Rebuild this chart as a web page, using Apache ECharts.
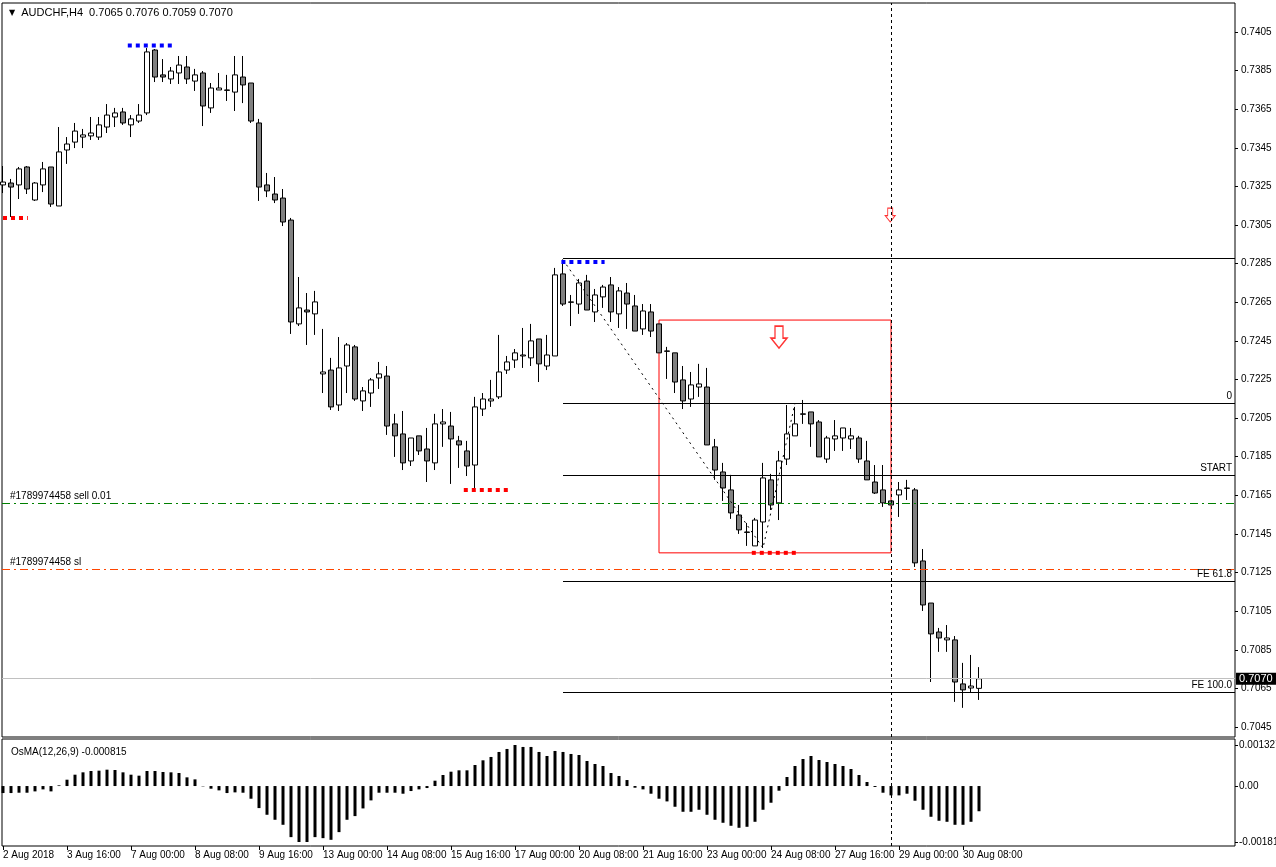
<!DOCTYPE html>
<html>
<head>
<meta charset="utf-8">
<script src="https://cdn.jsdelivr.net/npm/echarts@6/dist/echarts.min.js"></script>
<style>
  html, body { margin: 0; padding: 0; background: #fff; }
  #chart { width: 1276px; height: 867px; }
</style>
</head>
<body>
<div id="chart"></div>
<script>
// AUDCHF H4, bar 0 = 2 Aug 2018 08:00 ... bar 122 = 30 Aug 2018 16:00
const opens = [
  0.73258, 0.73268, 0.73258, 0.73351, 0.7318, 0.73258, 0.73351, 0.73149, 0.73439, 0.7348,
  0.73506, 0.73512, 0.73506, 0.73558, 0.7361, 0.73636, 0.73569, 0.73589, 0.73631, 0.73957,
  0.73828, 0.73807, 0.73838, 0.73869, 0.73796, 0.73838, 0.73657, 0.7375, 0.7375, 0.73739,
  0.73817, 0.73786, 0.73579, 0.73258, 0.73211, 0.7319, 0.73076, 0.72538, 0.7261, 0.7259,
  0.72279, 0.72299, 0.72118, 0.7232, 0.72419, 0.72139, 0.7218, 0.72258, 0.72268, 0.7202,
  0.71968, 0.71828, 0.71958, 0.7189, 0.71818, 0.7202, 0.72009, 0.71932, 0.7188, 0.71807,
  0.72097, 0.72139, 0.7216, 0.72299, 0.72351, 0.72372, 0.72362, 0.7246, 0.7232, 0.72372,
  0.72797, 0.72652, 0.72641, 0.7276, 0.726, 0.72678, 0.7274, 0.7259, 0.72698, 0.72631,
  0.72512, 0.726, 0.72538, 0.72398, 0.72388, 0.72248, 0.72149, 0.72211, 0.72211, 0.71901,
  0.71771, 0.71678, 0.71548, 0.7146, 0.71388, 0.71512, 0.7173, 0.71611, 0.71838, 0.71958,
  0.72072, 0.72082, 0.7203, 0.71838, 0.71942, 0.71947, 0.71942, 0.71947, 0.71828, 0.71719,
  0.71678, 0.71621, 0.71652, 0.71688, 0.71678, 0.7131, 0.71092, 0.70942, 0.70901, 0.70901,
  0.70673, 0.70652, 0.7065
];
const highs = [
  0.73356, 0.73289, 0.73351, 0.73356, 0.73273, 0.73377, 0.73351, 0.73558, 0.73506, 0.73579,
  0.73548, 0.7361, 0.7361, 0.73677, 0.73657, 0.73657, 0.7362, 0.73677, 0.73967, 0.73962,
  0.7391, 0.73869, 0.73926, 0.73926, 0.73859, 0.73848, 0.73786, 0.73838, 0.73828, 0.73926,
  0.73926, 0.73786, 0.736, 0.7332, 0.73299, 0.73237, 0.73087, 0.72781, 0.72698, 0.72709,
  0.72512, 0.72362, 0.7247, 0.72439, 0.72429, 0.72211, 0.72258, 0.72341, 0.7232, 0.72072,
  0.72087, 0.71947, 0.71958, 0.71999, 0.72072, 0.72097, 0.72082, 0.71958, 0.71932, 0.7216,
  0.7218, 0.72248, 0.72481, 0.72372, 0.72408, 0.72517, 0.72538, 0.7246, 0.72481, 0.72828,
  0.72872, 0.72688, 0.72771, 0.72792, 0.72719, 0.7274, 0.72781, 0.72729, 0.7275, 0.72688,
  0.72641, 0.72641, 0.72538, 0.72419, 0.72388, 0.7232, 0.72289, 0.72331, 0.7231, 0.71942,
  0.71818, 0.71756, 0.716, 0.71507, 0.71533, 0.71818, 0.71761, 0.7188, 0.72118, 0.72108,
  0.72144, 0.72082, 0.7204, 0.71958, 0.7204, 0.71999, 0.71999, 0.71958, 0.71932, 0.71807,
  0.71807, 0.71621, 0.71719, 0.7173, 0.71688, 0.71372, 0.71092, 0.70963, 0.70978, 0.70921,
  0.70782, 0.70823, 0.7076
];
const lows = [
  0.73216, 0.73092, 0.73185, 0.73211, 0.73175, 0.73221, 0.73144, 0.73149, 0.73367, 0.73449,
  0.73449, 0.73491, 0.73491, 0.73527, 0.73558, 0.73569, 0.73506, 0.73579, 0.7362, 0.73791,
  0.73791, 0.73781, 0.73781, 0.73781, 0.73745, 0.73563, 0.73631, 0.7375, 0.73693, 0.73641,
  0.73682, 0.73579, 0.73175, 0.73195, 0.73164, 0.73045, 0.72486, 0.72527, 0.72429, 0.72481,
  0.7218, 0.72092, 0.72087, 0.7218, 0.72139, 0.72087, 0.72108, 0.72201, 0.71963, 0.71849,
  0.71781, 0.71802, 0.71859, 0.71719, 0.71781, 0.71901, 0.71709, 0.71792, 0.7175, 0.71688,
  0.72061, 0.72108, 0.72149, 0.72279, 0.7231, 0.7231, 0.7232, 0.72237, 0.72299, 0.72372,
  0.72631, 0.72527, 0.7259, 0.7261, 0.72548, 0.72621, 0.72548, 0.72517, 0.72512, 0.72501,
  0.72481, 0.7247, 0.72388, 0.72253, 0.7218, 0.72097, 0.72108, 0.7216, 0.71911, 0.7173,
  0.71621, 0.71528, 0.7145, 0.71388, 0.71388, 0.71377, 0.71574, 0.71522, 0.71807, 0.71958,
  0.7202, 0.71901, 0.71849, 0.71818, 0.7188, 0.7188, 0.7189, 0.71818, 0.7173, 0.71657,
  0.7159, 0.716, 0.71538, 0.71626, 0.71279, 0.71051, 0.70683, 0.70839, 0.70839, 0.7058,
  0.70549, 0.70631, 0.7059
];
const closes = [
  0.73273, 0.73247, 0.73341, 0.73237, 0.73268, 0.73341, 0.73159, 0.73429, 0.7347, 0.73537,
  0.73517, 0.73527, 0.73569, 0.7362, 0.73631, 0.73579, 0.736, 0.7362, 0.73947, 0.73817,
  0.73817, 0.73848, 0.73879, 0.73807, 0.73828, 0.73667, 0.7376, 0.7376, 0.73748, 0.73828,
  0.73776, 0.73589, 0.73247, 0.73227, 0.7318, 0.73066, 0.72548, 0.72621, 0.726, 0.72652,
  0.72289, 0.72108, 0.7231, 0.72429, 0.72149, 0.72191, 0.72248, 0.72279, 0.72009, 0.71958,
  0.71818, 0.71947, 0.7188, 0.71828, 0.7202, 0.7203, 0.71942, 0.71911, 0.71802, 0.72108,
  0.72149, 0.72149, 0.72289, 0.72341, 0.72388, 0.72377, 0.7245, 0.72331, 0.72377, 0.72792,
  0.72641, 0.7265, 0.7275, 0.7261, 0.72688, 0.72729, 0.726, 0.72709, 0.72641, 0.72501,
  0.72605, 0.72501, 0.72388, 0.72396, 0.72237, 0.72139, 0.72222, 0.72227, 0.71911, 0.71781,
  0.71688, 0.71559, 0.71471, 0.71458, 0.71522, 0.7174, 0.716, 0.71828, 0.71968, 0.7202,
  0.7207, 0.7202, 0.71849, 0.71947, 0.71958, 0.71999, 0.71958, 0.71838, 0.7173, 0.71662,
  0.71611, 0.716, 0.71678, 0.71686, 0.713, 0.71082, 0.70932, 0.70911, 0.70911, 0.70683,
  0.70642, 0.70662, 0.7070
];
// OsMA(12,26,9) histogram, one value per bar
const osma = [
  -0.000227, -0.000227, -0.000216, -0.000216, -0.000173, -0.000108, -0.000173, 0.000022, 0.000205, 0.000367,
  0.000443, 0.000486, 0.000497, 0.000529, 0.000518, 0.000443, 0.000367, 0.000335, 0.000486, 0.000486,
  0.000454, 0.000443, 0.000421, 0.000281, 0.000216, -0.000011, -0.000086, -0.00014, -0.000227, -0.000205,
  -0.000216, -0.00041, -0.000713, -0.000929, -0.001091, -0.001253, -0.001652, -0.00181, -0.00181, -0.001652,
  -0.001685, -0.001739, -0.00149, -0.001091, -0.000972, -0.000724, -0.000464, -0.000216, -0.000216, -0.000216,
  -0.000248, -0.000162, -0.000108, -0.000065, 0.000173, 0.000356, 0.000464, 0.000508, 0.000508, 0.00068,
  0.000832, 0.00094, 0.001102, 0.001199, 0.001327, 0.001264, 0.001264, 0.001102, 0.000972, 0.001134,
  0.001102, 0.001037, 0.001004, 0.00081, 0.000713, 0.000648, 0.000421, 0.000324, 0.000194, -0.000054,
  -0.000108, -0.000248, -0.00041, -0.000497, -0.00067, -0.000832, -0.000832, -0.000767, -0.000929, -0.001091,
  -0.001188, -0.001285, -0.00135, -0.001318, -0.001156, -0.000767, -0.00054, -0.000151, 0.000292, 0.000648,
  0.000875, 0.000972, 0.000842, 0.000778, 0.000713, 0.000648, 0.000551, 0.000356, 0.00013, -0.000032,
  -0.000216, -0.000302, -0.000302, -0.000248, -0.000475, -0.000767, -0.000994, -0.001123, -0.001156, -0.001253,
  -0.001253, -0.001156, -0.000815
];

const timeTicks = [0, 8, 16, 24, 32, 40, 48, 56, 64, 72, 80, 88, 96, 104, 112, 120];
const timeLabels = ['2 Aug 2018', '3 Aug 16:00', '7 Aug 00:00', '8 Aug 08:00', '9 Aug 16:00', '13 Aug 00:00',
  '14 Aug 08:00', '15 Aug 16:00', '17 Aug 00:00', '20 Aug 08:00', '21 Aug 16:00', '23 Aug 00:00',
  '24 Aug 08:00', '27 Aug 16:00', '29 Aug 00:00', '30 Aug 08:00'];
const priceTicks = [0.7045, 0.7065, 0.7085, 0.7105, 0.7125, 0.7145, 0.7165, 0.7185, 0.7205, 0.7225,
  0.7245, 0.7265, 0.7285, 0.7305, 0.7325, 0.7345, 0.7365, 0.7385, 0.7405];
const osmaTicks = [0.001327, 0, -0.00181];
const osmaTickLabels = ['0.001327', '0.00', '-0.00181'];

// swing markers (dotted squares): bar range + price, kind high/low
const markStart = [0, 15.6, 57.6, 69.8, 93.6];
const markEnd = [3.1, 21.2, 63.2, 75.2, 99.2];
const markPrice = [0.73087, 0.7398, 0.71678, 0.72859, 0.71352];
const markKind = ['low', 'high', 'low', 'high', 'low'];

// fibo expansion drawn from bar 70
const fiboStart = 70;
const fiboNames = ['', '0', 'START', 'FE 61.8', 'FE 100.0'];
const fiboPrices = [0.7288, 0.72127, 0.71754, 0.71206, 0.7063];
const zigBars = [70, 95, 99];
const zigPrices = [0.7287, 0.71377, 0.72127];

const orderNames = ['#1789974458 sell 0.01', '#1789974458 sl'];
const orderPrices = [0.71609, 0.71269];
const lastPrice = 0.7070;

const boxBars = [82, 111];
const boxPrices = [0.72558, 0.71352];
const arrowBars = [97, 110.9];
const arrowPrices = [0.7247, 0.73102];
const cursorBar = 111;

const FONT = 'Liberation Sans';
const X_MIN = -0.125, X_MAX = 154;
const ARROW = 'path://M4,0 L12,0 L12,12 L16,12 L8,22 L0,12 L4,12 Z';

const candles = opens.map((o, i) => [i, o, closes[i], lows[i], highs[i]]);
const osmaData = osma.map((v, i) => [i, v]);

function segment(x0, x1, price, color, type, text, pos, extraLabel) {
  return {
    type: 'line', xAxisIndex: 0, yAxisIndex: 0, data: [], silent: true,
    markLine: {
      symbol: ['none', 'none'], silent: true, animation: false,
      lineStyle: { color: color, width: 1, type: type },
      label: Object.assign({
        show: !!text, formatter: text, position: pos,
        color: '#000', fontSize: 10, fontFamily: FONT, distance: 2
      }, extraLabel || {}),
      data: [[{ coord: [x0, price] }, { coord: [x1, price] }]]
    }
  };
}

const series = [];

series.push({
  type: 'candlestick', xAxisIndex: 0, yAxisIndex: 0,
  data: candles, barWidth: 5,
  itemStyle: { color: '#ffffff', color0: '#808080', borderColor: '#000000', borderColor0: '#000000', borderWidth: 1 }
});

// current price line
series.push(segment(X_MIN, X_MAX, lastPrice, '#c0c0c0', 'solid', lastPrice.toFixed(4), 'end',
  { backgroundColor: '#000', color: '#fff', fontSize: 11, padding: [1, 4, 0, 3], distance: 1 }));

// order lines
orderNames.forEach((n, i) => {
  series.push(segment(X_MIN, X_MAX, orderPrices[i], i === 0 ? '#008000' : '#ff4500', [8, 4, 2, 4], n, 'insideStartTop',
    { padding: [0, 0, 0, 6] }));
});

// fibo expansion levels
fiboNames.forEach((n, i) => {
  series.push(segment(fiboStart, X_MAX, fiboPrices[i], '#000', 'solid', n, 'insideEndTop', { padding: [0, 1, 0, 0] }));
});

// zigzag
series.push({
  type: 'line', xAxisIndex: 0, yAxisIndex: 0, silent: true, symbol: 'none',
  data: zigBars.map((b, i) => [b, zigPrices[i]]),
  lineStyle: { color: '#000', width: 1, type: [2, 4] }
});

// swing markers
markStart.forEach((s, i) => {
  series.push({
    type: 'line', xAxisIndex: 0, yAxisIndex: 0, silent: true, symbol: 'none',
    data: [[s, markPrice[i]], [markEnd[i], markPrice[i]]],
    lineStyle: { color: markKind[i] === 'high' ? '#0000ff' : '#ff0000', width: 4, type: [4, 4], cap: 'butt' }
  });
});

// rectangle + vertical cursor line
series.push({
  type: 'line', xAxisIndex: 0, yAxisIndex: 0, data: [], silent: true,
  markArea: {
    silent: true,
    itemStyle: { color: 'rgba(0,0,0,0)', borderColor: '#ff0000', borderWidth: 1 },
    data: [[{ coord: [boxBars[0], boxPrices[0]] }, { coord: [boxBars[1], boxPrices[1]] }]]
  },
  markLine: {
    symbol: ['none', 'none'], silent: true, animation: false, label: { show: false },
    lineStyle: { color: '#000', width: 1, type: [3, 3] },
    data: [{ xAxis: cursorBar }]
  }
});

// arrows
series.push({
  type: 'scatter', xAxisIndex: 0, yAxisIndex: 0, silent: true,
  symbol: ARROW, symbolSize: [16, 22],
  itemStyle: { color: '#ffffff', borderColor: '#ff0000', borderWidth: 1.5 },
  data: [[arrowBars[0], arrowPrices[0]]]
});
series.push({
  type: 'scatter', xAxisIndex: 0, yAxisIndex: 0, silent: true,
  symbol: ARROW, symbolSize: [10, 14],
  itemStyle: { color: '#ffffff', borderColor: '#ff0000', borderWidth: 1 },
  data: [[arrowBars[1], arrowPrices[1]]]
});

// OsMA histogram
series.push({
  type: 'bar', xAxisIndex: 1, yAxisIndex: 1, barWidth: 3,
  itemStyle: { color: '#000' },
  data: osmaData,
  markLine: {
    symbol: ['none', 'none'], silent: true, animation: false, label: { show: false },
    lineStyle: { color: '#000', width: 1, type: [3, 3] },
    data: [{ xAxis: cursorBar }]
  }
});

const labelStyle = { color: '#000', fontSize: 10, fontFamily: FONT };

const option = {
  animation: false,
  backgroundColor: '#ffffff',
  title: [
    {
      text: '{t|▼}  AUDCHF,H4  0.7065 0.7076 0.7059 0.7070', left: 4, top: 2,
      textStyle: {
        fontSize: 11, fontWeight: 'normal', fontFamily: FONT, color: '#000',
        rich: { t: { fontSize: 8, fontFamily: 'DejaVu Sans', color: '#000' } }
      }
    },
    {
      text: 'OsMA(12,26,9) -0.000815', left: 6, top: 742,
      textStyle: { fontSize: 10, fontWeight: 'normal', fontFamily: FONT, color: '#000' }
    }
  ],
  grid: [
    { left: 2, right: 41, top: 3, height: 734, outerBoundsMode: 'none', containLabel: false,
      show: true, borderColor: '#000', borderWidth: 1, backgroundColor: '#fff' },
    { left: 2, right: 41, top: 739, height: 107, outerBoundsMode: 'none', containLabel: false,
      show: true, borderColor: '#000', borderWidth: 1, backgroundColor: '#fff' }
  ],
  xAxis: [
    {
      type: 'value', gridIndex: 0, min: X_MIN, max: X_MAX,
      axisLine: { show: false, onZero: false }, axisTick: { show: false }, axisLabel: { show: false }, splitLine: { show: false }
    },
    {
      type: 'value', gridIndex: 1, min: X_MIN, max: X_MAX, position: 'bottom',
      axisLine: { show: false, onZero: false },
      axisTick: { show: true, length: 4, customValues: timeTicks, lineStyle: { color: '#000' } },
      axisLabel: Object.assign({
        customValues: timeTicks, align: 'left', margin: 4,
        formatter: v => timeLabels[timeTicks.indexOf(v)]
      }, labelStyle),
      splitLine: { show: false }
    }
  ],
  yAxis: [
    {
      type: 'value', gridIndex: 0, position: 'right', min: 0.70398, max: 0.742005, scale: true,
      axisLine: { show: false, onZero: false },
      axisTick: { show: true, length: 3, customValues: priceTicks, lineStyle: { color: '#000' } },
      axisLabel: Object.assign({
        customValues: priceTicks, margin: 6,
        formatter: v => v.toFixed(4)
      }, labelStyle),
      splitLine: { show: false }
    },
    {
      type: 'value', gridIndex: 1, position: 'right', min: -0.001939, max: 0.001521,
      axisLine: { show: false, onZero: false },
      axisTick: { show: true, length: 3, customValues: osmaTicks, lineStyle: { color: '#000' } },
      axisLabel: Object.assign({
        customValues: osmaTicks, margin: 4,
        formatter: v => osmaTickLabels[osmaTicks.indexOf(v)]
      }, labelStyle),
      splitLine: { show: false }
    }
  ],
  series: series
};

const chart = echarts.init(document.getElementById('chart'));
chart.setOption(option);
</script>
</body>
</html>
